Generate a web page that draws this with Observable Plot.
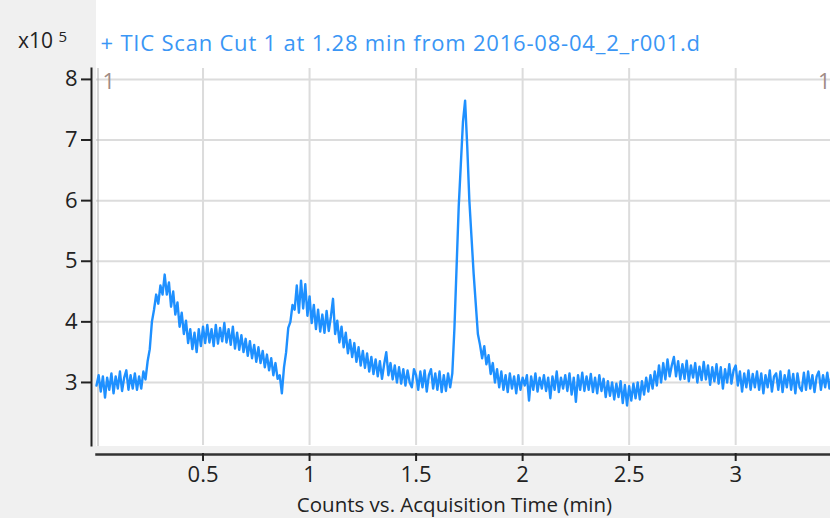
<!DOCTYPE html>
<html>
<head>
<meta charset="utf-8">
<script src="https://cdn.jsdelivr.net/npm/d3@7"></script>
<script src="https://cdn.jsdelivr.net/npm/@observablehq/plot@0.6"></script>
<style>
  html, body { margin: 0; padding: 0; background: #f0f0f0; }
  #wrap { position: relative; width: 830px; height: 518px; background: #f0f0f0; overflow: hidden; }
  #panel { position: absolute; left: 96px; top: 0; width: 734px; height: 446px; background: #ffffff; }
  #chart { position: absolute; left: 0; top: 0; }
</style>
</head>
<body>
<div id="wrap"><div id="panel"></div><div id="chart"></div></div>
<script>
// Acquisition: first scan time and sampling interval (min)
const startTime = 0.0;
const scanInterval = 0.01;
// TIC counts (x10^5)
const counts = [
  2.95, 3.12, 2.85, 3.10, 2.75, 3.08, 2.88, 3.15, 2.82, 3.10,
  2.90, 3.18, 2.86, 3.08, 3.20, 2.88, 3.12, 2.90, 3.15, 2.88,
  3.10, 2.90, 3.18, 3.05, 3.35, 3.55, 4.00, 4.20, 4.45, 4.30,
  4.60, 4.45, 4.78, 4.45, 4.65, 4.25, 4.50, 4.12, 4.32, 3.92,
  4.15, 3.80, 4.02, 3.65, 3.88, 3.55, 3.82, 3.50, 3.88, 3.60,
  3.92, 3.65, 3.95, 3.66, 3.88, 3.60, 3.95, 3.64, 3.90, 3.68,
  3.98, 3.66, 3.88, 3.62, 3.92, 3.56, 3.82, 3.54, 3.78, 3.50,
  3.72, 3.44, 3.68, 3.40, 3.62, 3.34, 3.58, 3.32, 3.52, 3.25,
  3.46, 3.20, 3.40, 3.12, 3.32, 3.06, 3.12, 2.82, 3.25, 3.50,
  3.90, 4.00, 4.28, 4.20, 4.60, 4.15, 4.68, 4.22, 4.62, 4.10,
  4.42, 3.98, 4.28, 3.88, 4.20, 3.84, 4.12, 3.82, 4.18, 3.85,
  4.08, 4.38, 3.80, 4.02, 3.66, 3.92, 3.58, 3.82, 3.48, 3.70,
  3.42, 3.65, 3.34, 3.58, 3.28, 3.52, 3.24, 3.48, 3.18, 3.42,
  3.14, 3.38, 3.10, 3.35, 3.06, 3.30, 3.50, 3.12, 3.32, 3.05,
  3.28, 3.00, 3.25, 2.98, 3.22, 2.95, 3.20, 3.00, 2.92, 3.22,
  3.12, 2.88, 3.18, 2.92, 3.20, 2.85, 3.12, 3.22, 2.90, 3.15,
  2.88, 3.18, 2.84, 3.12, 2.86, 3.15, 2.92, 3.15, 3.90, 4.90,
  5.90, 6.60, 7.30, 7.65, 6.90, 6.00, 5.40, 4.80, 4.30, 3.80,
  3.62, 3.40, 3.60, 3.30, 3.45, 3.14, 3.32, 3.00, 3.22, 2.92,
  3.18, 2.88, 3.12, 2.84, 3.15, 2.90, 3.10, 2.82, 3.12, 2.88,
  3.08, 2.95, 3.12, 2.70, 3.10, 2.88, 3.15, 2.85, 3.08, 2.90,
  3.12, 2.86, 3.08, 2.74, 3.10, 2.88, 3.18, 2.84, 3.08, 2.90,
  3.12, 2.86, 3.15, 2.80, 3.08, 2.68, 3.12, 2.88, 3.16, 2.86,
  3.10, 2.88, 3.14, 2.84, 3.08, 2.82, 3.12, 2.86, 3.06, 2.76,
  3.02, 2.78, 3.00, 2.72, 2.98, 2.76, 3.02, 2.66, 2.96, 2.62,
  2.94, 2.70, 2.98, 2.74, 3.00, 2.72, 3.02, 2.80, 3.08, 2.85,
  3.12, 2.90, 3.18, 2.95, 3.28, 3.00, 3.32, 3.05, 3.38, 3.10,
  3.28, 3.42, 3.10, 3.35, 3.05, 3.30, 3.06, 3.36, 3.02, 3.28,
  3.08, 3.32, 3.00, 3.26, 3.04, 3.34, 3.05, 3.28, 2.96, 3.25,
  3.02, 3.30, 2.98, 3.25, 2.90, 3.22, 3.00, 3.30, 2.98, 3.20,
  3.28, 2.95, 3.18, 2.85, 3.15, 2.92, 3.20, 2.88, 3.14, 2.92,
  3.18, 2.88, 3.15, 2.82, 3.12, 2.92, 3.20, 2.85, 3.10, 3.15,
  2.88, 3.18, 2.84, 3.12, 2.92, 3.20, 2.88, 3.14, 2.82, 3.15,
  2.92, 2.86, 3.16, 2.88, 3.18, 2.90, 3.12, 2.84, 3.10, 3.18,
  2.88, 3.12, 2.92, 3.16, 2.90, 3.12
];
const xTicks = [0.5, 1, 1.5, 2, 2.5, 3];
const yTicks = [3, 4, 5, 6, 7, 8];
const titleText = "+ TIC Scan Cut 1 at 1.28 min from 2016-08-04_2_r001.d";
const xLabel = "Counts vs. Acquisition Time (min)";
const sampleMark = "1";

const data = counts.map((v, i) => ({t: startTime + i * scanInterval, v}));

const FONT = "'Open Sans', sans-serif";
const chart = Plot.plot({
  width: 830,
  height: 518,
  marginLeft: 96,
  marginRight: 0,
  marginTop: 68,
  marginBottom: 73,
  style: {background: "transparent", fontFamily: FONT, fontSize: "22px", color: "#222"},
  x: {domain: [0, 3.445], ticks: xTicks},
  y: {domain: [1.96, 8.18], ticks: yTicks},
  marks: [
    Plot.gridX(xTicks, {stroke: "#dcdcdc", strokeOpacity: 1, strokeWidth: 2}),
    Plot.gridY(yTicks, {stroke: "#dcdcdc", strokeOpacity: 1, strokeWidth: 2}),
    Plot.frame({anchor: "left", stroke: "#b0b0b0", strokeWidth: 1, dx: 1.5}),
    Plot.line(data, {x: "t", y: "v", stroke: "#1e90ff", strokeWidth: 2.4}),
    Plot.frame({anchor: "left", stroke: "#222", strokeWidth: 2, dx: -5}),
    Plot.frame({anchor: "bottom", stroke: "#333", strokeWidth: 2.5, dy: 9}),
    Plot.axisY(yTicks, {anchor: "left", dx: -5, tickSize: 10, tickPadding: 4, strokeWidth: 2, stroke: "#222", fill: "#222", label: null, fontSize: 22, tickFormat: d => String(d)}),
    Plot.axisX(xTicks, {anchor: "bottom", dy: 8, tickSize: 8, tickPadding: 5, strokeWidth: 2, stroke: "#222", fill: "#222", label: null, fontSize: 22, tickFormat: d => String(d)}),
    Plot.text([titleText], {frameAnchor: "top-left", textAnchor: "start", dx: 4, dy: -25, lineAnchor: "middle", fill: "#3a96f5", fontSize: 22}),
    Plot.text([sampleMark], {frameAnchor: "top-left", textAnchor: "start", dx: 6, dy: 5, lineAnchor: "top", fill: "#a08c86", fontSize: 22}),
    Plot.text([sampleMark], {frameAnchor: "top-right", textAnchor: "end", dx: 0, dy: 5, lineAnchor: "top", fill: "#a08c86", fontSize: 22}),
    Plot.text([xLabel], {frameAnchor: "bottom", dx: -9, dy: 60, lineAnchor: "middle", fill: "#222", fontSize: 20.5})
  ]
});
// widen the title's letter spacing to match the reference's wider UI font
d3.select(chart).selectAll("text")
  .filter(function() { return this.textContent === titleText; })
  .style("letter-spacing", "0.8px");
document.getElementById("chart").appendChild(chart);

// exponent label at top-left
const expo = document.createElement("div");
expo.style.cssText = "position:absolute;left:18px;top:30px;font-family:'Open Sans',sans-serif;font-size:21px;color:#222;line-height:1;";
expo.innerHTML = "x10 <span style='font-size:15px;position:relative;top:-6px'>5</span>";
document.getElementById("wrap").appendChild(expo);
</script>
</body>
</html>
